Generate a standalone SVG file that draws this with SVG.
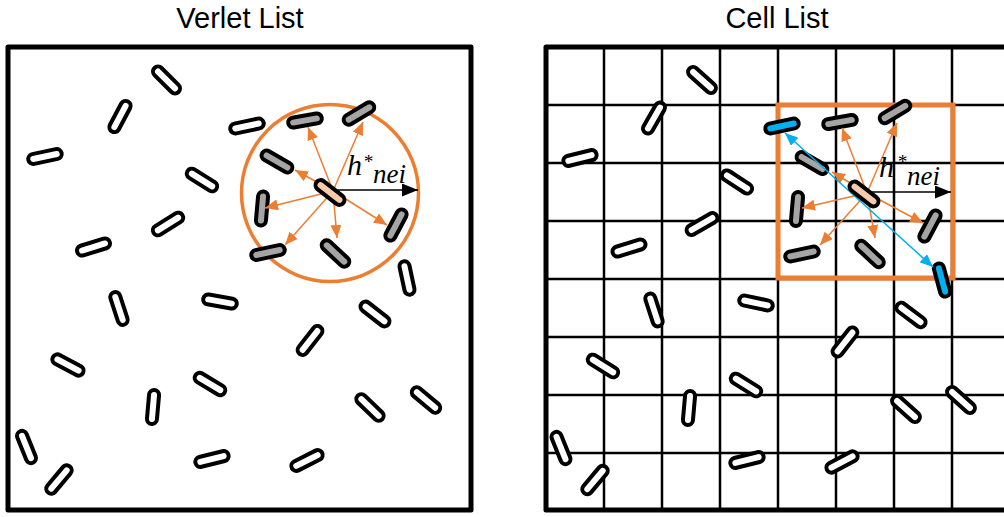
<svg xmlns="http://www.w3.org/2000/svg" width="1004" height="517" viewBox="0 0 1004 517">
<defs>
<style>
.title{font-family:"Liberation Sans",Arial,sans-serif;font-size:29px;fill:#000;text-anchor:middle}
.frame{fill:none;stroke:#000;stroke-width:5;stroke-linejoin:round}
.grid{stroke:#000;stroke-width:2.5;fill:none}
.p{stroke:#000;stroke-width:4}
.w{fill:#fff}
.g{fill:#a5a5a5}
.c{fill:#f8cbad}
.b{fill:#00b0f0}
.oa{stroke:#ed7d31;stroke-width:1.5;fill:none;marker-end:url(#ah)}
.ka{stroke:#000;stroke-width:1.5;fill:none;marker-end:url(#kh)}
.ba{stroke:#00b0f0;stroke-width:1.5;fill:none;marker-end:url(#bh);marker-start:url(#bh)}
.m{font-family:"Liberation Serif","Times New Roman",serif;font-style:italic;fill:#000}
</style>
<rect id="pr" x="-17" y="-5" width="34" height="10" rx="5"/>
<marker id="ah" markerUnits="userSpaceOnUse" markerWidth="13" markerHeight="11" refX="13" refY="5.5" orient="auto"><path d="M0,0 L13,5.5 L0,11 z" fill="#ed7d31"/></marker>
<marker id="kh" markerUnits="userSpaceOnUse" markerWidth="16" markerHeight="13" refX="16" refY="6.5" orient="auto"><path d="M0,0 L16,6.5 L0,13 z" fill="#000"/></marker>
<marker id="bh" markerUnits="userSpaceOnUse" markerWidth="13" markerHeight="11" refX="13" refY="5.5" orient="auto-start-reverse"><path d="M0,0 L13,5.5 L0,11 z" fill="#00b0f0"/></marker>
</defs>
<rect width="1004" height="517" fill="#fff"/>

<text class="title" x="240" y="28">Verlet List</text>
<text class="title" x="777" y="28">Cell List</text>

<!-- Left panel -->
<g id="verlet-panel">
<rect class="frame" x="8" y="47" width="463" height="463"/>
<circle id="verlet-cutoff" cx="330" cy="193" r="88.5" fill="none" stroke="#ed7d31" stroke-width="3.5"/>
</g>

<!-- Right panel grid -->
<g id="cell-panel">
<path class="grid" d="M604,47V510M662,47V510M720,47V510M778,47V510M836,47V510M894,47V510M952,47V510M546,105H1010M546,163H1010M546,221H1010M546,279H1010M546,337H1010M546,395H1010M546,453H1010"/>
<rect class="frame" x="546" y="47" width="464" height="463"/>
<rect id="cell-box" x="778" y="105" width="175" height="173" fill="none" stroke="#ed7d31" stroke-width="5"/>
</g>

<!-- Left particles -->
<g id="verlet-particles">
<use id="vl1" href="#pr" class="p w" transform="translate(166.5,80) rotate(45)"/>
<use id="vl2" href="#pr" class="p w" transform="translate(120,116.5) rotate(-62)"/>
<use id="vl3" href="#pr" class="p w" transform="translate(45,156.5) rotate(-12)"/>
<use id="vl4" href="#pr" class="p w" transform="translate(247,126) rotate(-12)"/>
<use id="vl5" href="#pr" class="p w" transform="translate(202,180) rotate(32)"/>
<use id="vl6" href="#pr" class="p w" transform="translate(168,224) rotate(-32)"/>
<use id="vl7" href="#pr" class="p w" transform="translate(93.5,247) rotate(-17)"/>
<use id="vl8" href="#pr" class="p w" transform="translate(119,308.5) rotate(72)"/>
<use id="vl9" href="#pr" class="p w" transform="translate(220,301.5) rotate(10)"/>
<use id="vl10" href="#pr" class="p w" transform="translate(68,365) rotate(28)"/>
<use id="vl11" href="#pr" class="p w" transform="translate(210,384) rotate(31)"/>
<use id="vl12" href="#pr" class="p w" transform="translate(153,407) rotate(95)"/>
<use id="vl13" href="#pr" class="p w" transform="translate(26.5,447) rotate(68)"/>
<use id="vl14" href="#pr" class="p w" transform="translate(59,479.5) rotate(-50)"/>
<use id="vl15" href="#pr" class="p w" transform="translate(212,459) rotate(-14)"/>
<use id="vl16" href="#pr" class="p w" transform="translate(407,278) rotate(78)"/>
<use id="vl17" href="#pr" class="p w" transform="translate(375,314) rotate(38)"/>
<use id="vl18" href="#pr" class="p w" transform="translate(310,340.5) rotate(-52)"/>
<use id="vl19" href="#pr" class="p w" transform="translate(370,407.5) rotate(44)"/>
<use id="vl20" href="#pr" class="p w" transform="translate(426,400) rotate(40)"/>
<use id="vl21" href="#pr" class="p w" transform="translate(307,460.5) rotate(-27)"/>
<use id="vg1" href="#pr" class="p g" transform="translate(305,120.5) rotate(-10)"/>
<use id="vg2" href="#pr" class="p g" transform="translate(359,113.5) rotate(-31)"/>
<use id="vg3" href="#pr" class="p g" transform="translate(277,161.5) rotate(30)"/>
<use id="vg4" href="#pr" class="p g" transform="translate(262,208.5) rotate(95)"/>
<use id="vg5" href="#pr" class="p g" transform="translate(268,252.5) rotate(-12)"/>
<use id="vg6" href="#pr" class="p g" transform="translate(335.5,253.5) rotate(43)"/>
<use id="vg7" href="#pr" class="p g" transform="translate(396,225) rotate(-62)"/>
</g>

<!-- Right particles -->
<g id="cell-particles">
<use id="cl1" href="#pr" class="p w" transform="translate(702,80) rotate(42)"/>
<use id="cl2" href="#pr" class="p w" transform="translate(654,118) rotate(-60)"/>
<use id="cl3" href="#pr" class="p w" transform="translate(580,158) rotate(-14)"/>
<use id="cl4" href="#pr" class="p w" transform="translate(737,182) rotate(33)"/>
<use id="cl5" href="#pr" class="p w" transform="translate(702,224) rotate(-30)"/>
<use id="cl6" href="#pr" class="p w" transform="translate(629,248) rotate(-17)"/>
<use id="cl7" href="#pr" class="p w" transform="translate(654,310) rotate(72)"/>
<use id="cl8" href="#pr" class="p w" transform="translate(756,303) rotate(12)"/>
<use id="cl9" href="#pr" class="p w" transform="translate(603,366) rotate(32)"/>
<use id="cl10" href="#pr" class="p w" transform="translate(746,385) rotate(32)"/>
<use id="cl11" href="#pr" class="p w" transform="translate(689,408) rotate(95)"/>
<use id="cl12" href="#pr" class="p w" transform="translate(561,448) rotate(68)"/>
<use id="cl13" href="#pr" class="p w" transform="translate(595,480) rotate(-50)"/>
<use id="cl14" href="#pr" class="p w" transform="translate(747,460) rotate(-14)"/>
<use id="cl15" href="#pr" class="p w" transform="translate(911,315) rotate(37)"/>
<use id="cl16" href="#pr" class="p w" transform="translate(845,342) rotate(-52)"/>
<use id="cl17" href="#pr" class="p w" transform="translate(906,409) rotate(42)"/>
<use id="cl18" href="#pr" class="p w" transform="translate(961,400) rotate(42)"/>
<use id="cl19" href="#pr" class="p w" transform="translate(842,462) rotate(-28)"/>
<use id="cb1" href="#pr" class="p b" transform="translate(782,126) rotate(-12)"/>
<use id="cb2" href="#pr" class="p b" transform="translate(942,280) rotate(75)"/>
<use id="cg1" href="#pr" class="p g" transform="translate(840,122) rotate(-10)"/>
<use id="cg2" href="#pr" class="p g" transform="translate(895,112) rotate(-31)"/>
<use id="cg3" href="#pr" class="p g" transform="translate(812,163) rotate(30)"/>
<use id="cg4" href="#pr" class="p g" transform="translate(797,209) rotate(95)"/>
<use id="cg5" href="#pr" class="p g" transform="translate(802,254) rotate(-12)"/>
<use id="cg6" href="#pr" class="p g" transform="translate(870,254) rotate(43)"/>
<use id="cg7" href="#pr" class="p g" transform="translate(930,226) rotate(-62)"/>
</g>

<!-- Connectors -->
<g id="connectors">
<line class="oa" x1="333" y1="191" x2="308" y2="127"/>
<line class="oa" x1="333" y1="191" x2="363" y2="122"/>
<line class="oa" x1="333" y1="191" x2="295" y2="170"/>
<line class="oa" x1="333" y1="191" x2="265" y2="208"/>
<line class="oa" x1="333" y1="191" x2="285" y2="245"/>
<line class="oa" x1="333" y1="191" x2="337" y2="238"/>
<line class="oa" x1="333" y1="191" x2="387" y2="225"/>
<line class="ka" x1="333" y1="190" x2="418" y2="190"/>

<line class="oa" x1="867" y1="193" x2="842" y2="128"/>
<line class="oa" x1="867" y1="193" x2="897" y2="123"/>
<line class="oa" x1="867" y1="193" x2="832" y2="172"/>
<line class="oa" x1="867" y1="193" x2="802" y2="208"/>
<line class="oa" x1="867" y1="193" x2="820" y2="245"/>
<line class="oa" x1="867" y1="193" x2="875" y2="238"/>
<line class="oa" x1="867" y1="193" x2="923" y2="223"/>
<line class="ka" x1="868" y1="192" x2="951" y2="192"/>
<line class="ba" x1="785" y1="133" x2="933" y2="267"/>
</g>

<!-- Central particles (drawn above the arrows) -->
<g id="verlet-center">
<use id="vc" href="#pr" class="p c" transform="translate(330,192.5) rotate(38)"/>
</g>
<g id="cell-center">
<use id="cc" href="#pr" class="p c" transform="translate(864,194) rotate(38)"/>
</g>

<!-- Labels -->
<g id="labels">
<text class="m" x="347" y="175" font-size="30">h<tspan font-size="19" dx="1" dy="-7">*</tspan><tspan font-size="27" dx="0.5" dy="15">nei</tspan></text>
<text class="m" x="879" y="177" font-size="30">h<tspan font-size="19" dx="3" dy="-9">*</tspan><tspan font-size="27" dx="0.5" dy="17">nei</tspan></text>
</g>
</svg>
